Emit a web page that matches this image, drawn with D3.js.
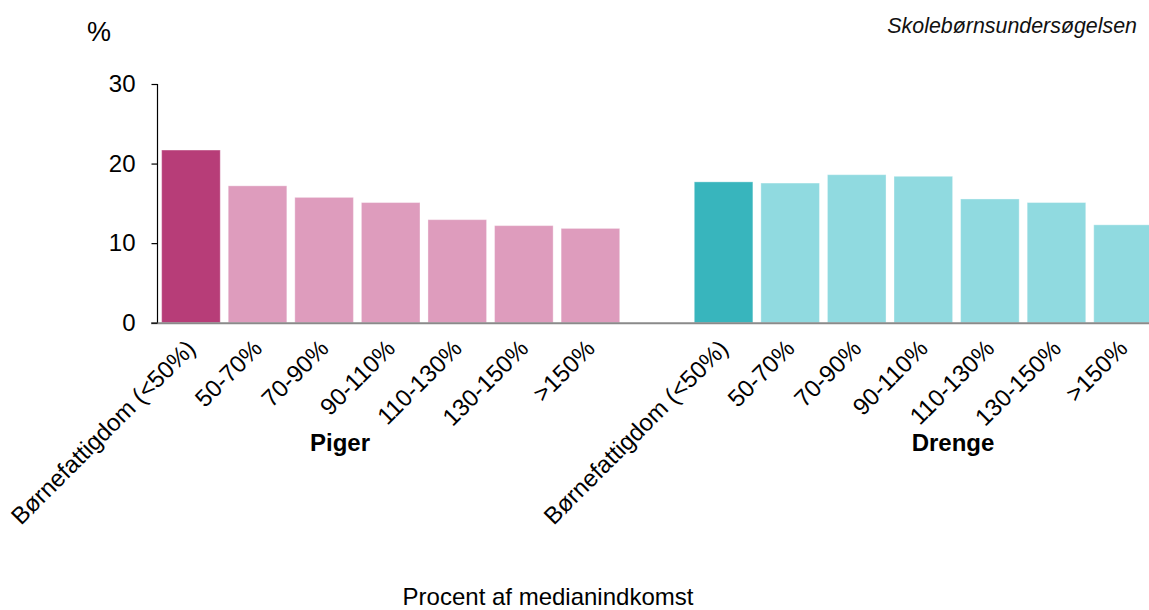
<!DOCTYPE html>
<html>
<head>
<meta charset="utf-8">
<script src="https://cdn.jsdelivr.net/npm/d3@7/dist/d3.min.js"></script>
<style>
  html, body { margin: 0; padding: 0; background: #ffffff; overflow: hidden; }
  svg { display: block; font-family: "Liberation Sans", Arial, Helvetica, sans-serif; }
</style>
</head>
<body>
<svg id="chart" width="1149" height="610"></svg>
<script>
// ---- data ----
const categories = ["Børnefattigdom (<50%)", "50-70%", "70-90%", "90-110%", "110-130%", "130-150%", ">150%"];
const groups = ["Piger", "Drenge"];
const pigerValues = [21.7, 17.2, 15.75, 15.1, 12.95, 12.2, 11.85];
const drengeValues = [17.7, 17.55, 18.6, 18.4, 15.55, 15.1, 12.3];
const yTicks = [0, 10, 20, 30];
const yUnit = "%";
const sourceLabel = "Skolebørnsundersøgelsen";
const xTitle = "Procent af medianindkomst";

// ---- styling ----
const colors = {
  Piger: { highlight: "#b73d78", normal: "#de9cbd" },
  Drenge: { highlight: "#38b5bd", normal: "#90dae0" }
};

const svg = d3.select("#chart");

// Build slot keys: 7 Piger, one empty gap, 7 Drenge
const seriesValues = { Piger: pigerValues, Drenge: drengeValues };
const rows = [];
groups.forEach((g) => {
  categories.forEach((c, ci) => {
    rows.push({ key: g + "|" + ci, group: g, cat: c, idx: ci, value: seriesValues[g][ci] });
  });
});
const domain = [];
groups.forEach((g, gi) => {
  if (gi > 0) domain.push("gap" + gi);
  categories.forEach((c, ci) => domain.push(g + "|" + ci));
});

const x = d3.scaleBand()
  .domain(domain)
  .range([157, 1157])
  .paddingInner(0.12)
  .paddingOuter(0.07);

const y = d3.scaleLinear()
  .domain([0, 30])
  .range([322.7, 84]);

// bars
svg.append("g")
  .selectAll("rect")
  .data(rows)
  .join("rect")
  .attr("x", d => x(d.key))
  .attr("y", d => y(d.value))
  .attr("width", x.bandwidth())
  .attr("height", d => y(0) - y(d.value))
  .attr("fill", d => d.idx === 0 ? colors[d.group].highlight : colors[d.group].normal)
  .attr("stroke", "#ffffff")
  .attr("stroke-opacity", 0.35)
  .attr("stroke-width", 1);

// baseline (x axis line)
svg.append("line")
  .attr("x1", 151).attr("x2", 1149)
  .attr("y1", y(0) + 0.5).attr("y2", y(0) + 0.5)
  .attr("stroke", "#8a8a8a")
  .attr("stroke-width", 2);

// y axis
const yAxis = d3.axisLeft(y).tickValues(yTicks).tickSize(6).tickPadding(16);
const gy = svg.append("g")
  .attr("transform", "translate(157.5,0)")
  .call(yAxis);
gy.select(".domain").attr("stroke", "#000").attr("stroke-width", 1.2).attr("d", `M0,${y(30)}V${y(0)}`);
gy.selectAll(".tick line").attr("stroke", "#000").attr("stroke-width", 1.2);
gy.selectAll(".tick text")
  .attr("fill", "#000")
  .style("font-size", "24px")
  .style("font-family", "'Liberation Sans', Arial, sans-serif");

// category tick labels, rotated
svg.append("g")
  .selectAll("text")
  .data(rows)
  .join("text")
  .attr("transform", d => `translate(${x(d.key) + x.bandwidth() / 2 + 6},${350}) rotate(-45)`)
  .attr("text-anchor", "end")
  .style("font-size", "24px")
  .attr("fill", "#000")
  .text(d => d.cat);

// group labels
const groupLabelX = { Piger: 340, Drenge: 953 };
svg.append("g")
  .selectAll("text")
  .data(groups)
  .join("text")
  .attr("x", g => groupLabelX[g])
  .attr("y", 451)
  .attr("text-anchor", "middle")
  .style("font-size", "24px")
  .style("font-weight", "bold")
  .attr("fill", "#000")
  .text(g => g);

// unit label
svg.append("text")
  .attr("x", 87)
  .attr("y", 41)
  .style("font-size", "27px")
  .attr("fill", "#000")
  .text(yUnit);

// source label
svg.append("text")
  .attr("x", 1137)
  .attr("y", 33)
  .attr("text-anchor", "end")
  .style("font-size", "21.4px")
  .style("font-style", "italic")
  .attr("fill", "#111")
  .text(sourceLabel);

// x title
svg.append("text")
  .attr("x", 548)
  .attr("y", 605)
  .attr("text-anchor", "middle")
  .style("font-size", "24px")
  .attr("fill", "#000")
  .text(xTitle);
</script>
</body>
</html>
